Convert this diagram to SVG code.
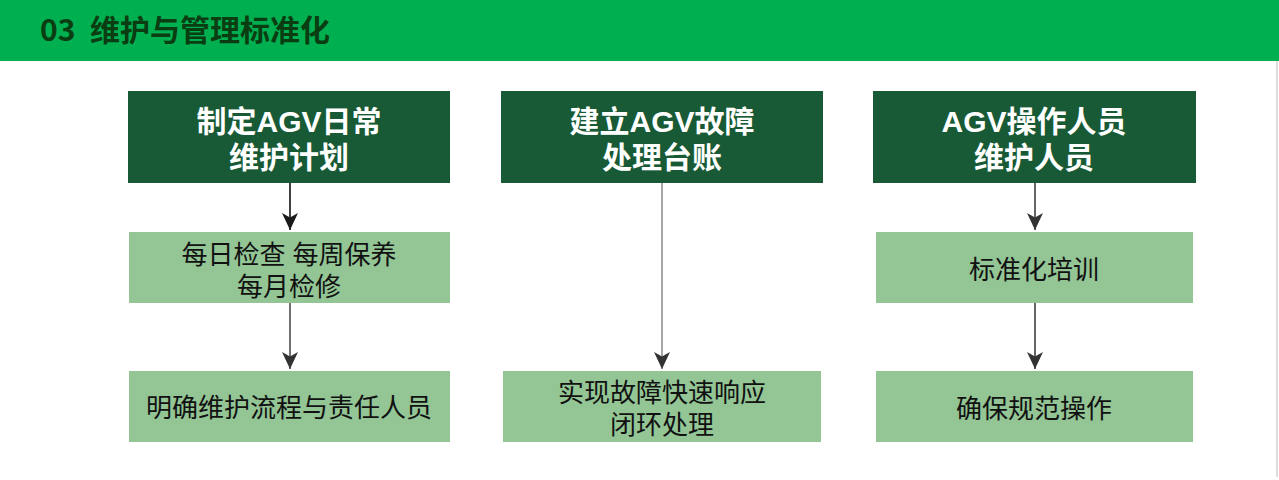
<svg xmlns="http://www.w3.org/2000/svg" width="1279" height="480" viewBox="0 0 1279 480">
<style>
.dark{fill:#185A36}
.light{fill:#93C595}
.title{font-family:"Liberation Sans","Noto Sans CJK SC",sans-serif;font-weight:bold;font-size:30px;fill:#FFFFFF;text-anchor:middle}
.body{font-family:"Liberation Sans","Noto Sans CJK SC",sans-serif;font-size:26px;fill:#111111;text-anchor:middle}
.head{font-family:"Noto Sans CJK SC","Liberation Sans",sans-serif;font-weight:bold;font-size:30px;fill:#0A3D12}
.conn{fill:none;stroke-width:1.5}
</style>
<defs>
<marker id="ah" markerUnits="userSpaceOnUse" markerWidth="18" markerHeight="18" refX="17" refY="8" orient="auto" viewBox="0 0 18 16">
<path d="M0,0 L17,8 L0,16 L4.5,8 Z" fill="#1A1A1A"/>
</marker>
<marker id="ah2" markerUnits="userSpaceOnUse" markerWidth="18" markerHeight="18" refX="17" refY="8" orient="auto" viewBox="0 0 18 16">
<path d="M0,0 L17,8 L0,16 L4.5,8 Z" fill="#333333"/>
</marker>
</defs>
<rect x="0" y="0" width="1279" height="61" fill="#00B050"/>
<rect x="1276" y="61" width="2" height="416" fill="#DCDCDC"/>
<text class="head" x="40" y="41">03<tspan x="90">维护与管理标准化</tspan></text>

<g id="n1">
<rect class="dark" x="128" y="91" width="322" height="92"/>
<text class="title" x="289" y="132">制定AGV日常<tspan x="289" dy="36">维护计划</tspan></text>
</g>
<g id="n2">
<rect class="light" x="129" y="232" width="321" height="71"/>
<text class="body" x="289" y="264">每日检查 每周保养<tspan x="289" dy="32">每月检修</tspan></text>
</g>
<g id="n3">
<rect class="light" x="129" y="371" width="321" height="71"/>
<text class="body" x="289" y="417">明确维护流程与责任人员</text>
</g>

<g id="n4">
<rect class="dark" x="501" y="91" width="322" height="92"/>
<text class="title" x="662" y="132">建立AGV故障<tspan x="662" dy="36">处理台账</tspan></text>
</g>
<g id="n5">
<rect class="light" x="503" y="371" width="318" height="71"/>
<text class="body" x="662" y="402">实现故障快速响应<tspan x="662" dy="32">闭环处理</tspan></text>
</g>

<g id="n6">
<rect class="dark" x="873" y="91" width="323" height="92"/>
<text class="title" x="1034" y="132">AGV操作人员<tspan x="1034" dy="36">维护人员</tspan></text>
</g>
<g id="n7">
<rect class="light" x="876" y="232" width="317" height="71"/>
<text class="body" x="1034" y="279">标准化培训</text>
</g>
<g id="n8">
<rect class="light" x="876" y="371" width="317" height="71"/>
<text class="body" x="1034" y="418">确保规范操作</text>
</g>

<g id="connectors">
<line class="conn" x1="290" y1="183" x2="290" y2="230" stroke="#000000" marker-end="url(#ah)"/>
<line class="conn" x1="290" y1="303" x2="290" y2="369" stroke="#404040" marker-end="url(#ah2)"/>
<line class="conn" x1="662" y1="183" x2="662" y2="369" stroke="#8A8A8A" marker-end="url(#ah2)"/>
<line class="conn" x1="1035" y1="183" x2="1035" y2="230" stroke="#333333" marker-end="url(#ah2)"/>
<line class="conn" x1="1035" y1="303" x2="1035" y2="369" stroke="#333333" marker-end="url(#ah2)"/>
</g>
</svg>
